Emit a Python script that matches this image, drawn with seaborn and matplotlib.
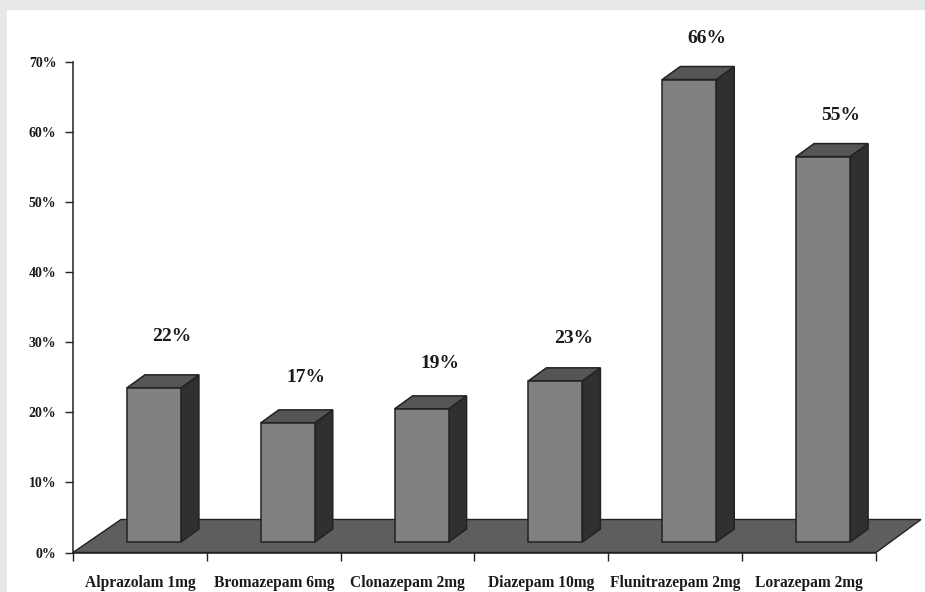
import matplotlib
matplotlib.use("Agg")
import matplotlib.pyplot as plt
from matplotlib.patches import Polygon, Rectangle
import pandas as pd
import seaborn as sns

drugs = ["Alprazolam 1mg", "Bromazepam 6mg", "Clonazepam 2mg",
         "Diazepam 10mg", "Flunitrazepam 2mg", "Lorazepam 2mg"]
percent = [22, 17, 19, 23, 66, 55]
y_ticks = [0, 10, 20, 30, 40, 50, 60, 70]

# Extra lift of each value label above its bar, in points
label_lift = [21.5, 17.5, 17.5, 15, 14, 14]

W, H = 925, 592
L, R, B, T = 73, 876, 552.5, 62
FRONT, SIDE, CAP, FLOOR, EDGE = "#808080", "#303030", "#555555", "#5e5e5e", "#222222"

sns.set_theme(style="white")
plt.rcParams["font.family"] = ["Liberation Serif", "DejaVu Serif"]
plt.rcParams["font.weight"] = "bold"

fig = plt.figure(figsize=(W / 100, H / 100), dpi=100, facecolor="#e6e8ea")
fig.add_artist(Rectangle((7 / W, 0), 1 - 7 / W, 1 - 10 / H, transform=fig.transFigure,
                         facecolor="white", edgecolor="none", zorder=-5))
ax = fig.add_axes([L / W, 1 - B / H, (R - L) / W, (B - T) / H], facecolor="none")

df = pd.DataFrame({"drug": drugs, "percent": percent})

# Pixel scales used to express the pseudo-3D offsets in data units
px_x = 6 / (R - L)
px_y = 70 / (B - T)
lift = 10.5 * px_y          # bars stand back from the axis on the floor
shift = 14 * px_x           # and sit slightly right of the category centre
depth_x, depth_y = 18 * px_x, 13 * px_y

sns.barplot(data=df, x="drug", y="percent", ax=ax, width=54 * px_x, bottom=lift,
            color=FRONT, saturation=1, edgecolor=EDGE, linewidth=1.1, zorder=4, errorbar=None)
ax.set_xlim(-0.5, 5.5)
ax.set_ylim(0, 70)

# Floor plane behind the bars
x0, x1 = ax.get_xlim()
ax.add_patch(Polygon([(x0, 0), (x1, 0), (x1 + 45 * px_x, 33 * px_y), (x0 + 48 * px_x, 33 * px_y)],
                     closed=True, facecolor=FLOOR, edgecolor=EDGE, linewidth=1.0,
                     clip_on=False, zorder=1))

# Side and top faces, then the value label over each bar
for bar, value, extra in zip(ax.patches[:len(percent)], percent, label_lift):
    bar.set_x(bar.get_x() + shift)
    xl, xr = bar.get_x(), bar.get_x() + bar.get_width()
    yb, yt = bar.get_y(), bar.get_y() + bar.get_height()
    ax.add_patch(Polygon([(xr, yb), (xr + depth_x, yb + depth_y), (xr + depth_x, yt + depth_y), (xr, yt)],
                         closed=True, facecolor=SIDE, edgecolor=EDGE, linewidth=1.1,
                         clip_on=False, zorder=3))
    ax.add_patch(Polygon([(xl, yt), (xr, yt), (xr + depth_x, yt + depth_y), (xl + depth_x, yt + depth_y)],
                         closed=True, facecolor=CAP, edgecolor=EDGE, linewidth=1.1,
                         clip_on=False, zorder=3))
    ax.annotate(f"{value}%", xy=(xl + bar.get_width() / 2 + depth_x, yt + depth_y),
                xytext=(0, extra), textcoords="offset points", ha="center", va="bottom",
                fontsize=14, fontweight="bold", color="#1a1a1a", annotation_clip=False)

ax.set_xlabel("")
ax.set_ylabel("")
ax.set_yticks(y_ticks)
ax.set_yticklabels([f"{t}%" for t in y_ticks], fontsize=10, fontweight="bold", color="#1a1a1a")
ax.set_xticks(range(len(drugs)))
ax.set_xticklabels(drugs, fontsize=11.2, fontweight="bold", color="#1a1a1a")
ax.set_xticks([x0 + i for i in range(7)], minor=True)
ax.tick_params(axis="x", which="major", length=0, pad=16)
ax.tick_params(axis="x", which="minor", length=6, width=1, color="#222222", bottom=True)
ax.tick_params(axis="y", length=6, width=1, color="#222222", left=True, pad=6)

sns.despine(ax=ax, top=True, right=True)
for side in ("left", "bottom"):
    ax.spines[side].set_color("#222222")
    ax.spines[side].set_linewidth(1.1)
    ax.spines[side].set_zorder(2)

fig.savefig("out.png", dpi=100, facecolor=fig.get_facecolor())
